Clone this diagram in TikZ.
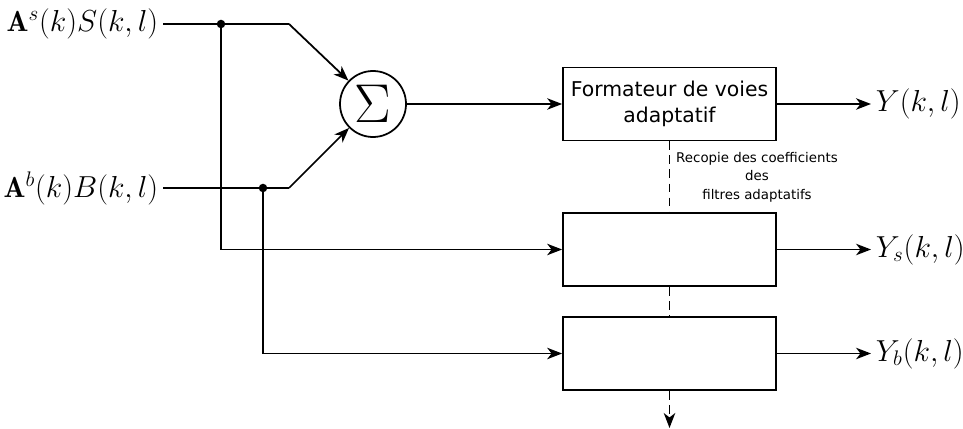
\documentclass[tikz,border=0pt]{standalone}
\usepackage{fontspec}
\newfontfamily\boxfont{DejaVu Sans}
\usetikzlibrary{arrows.meta}

\begin{document}
\begin{tikzpicture}[
  x=1cm,
  y=1cm,
  line width=1pt,
  sig/.style={font=\fontsize{16.5}{20}\selectfont, inner sep=0.08cm},
  sum/.style={draw, circle, minimum size=1.32cm, inner sep=0pt, font=\Huge},
  block/.style={draw, minimum width=4.26cm, minimum height=1.46cm, align=center, font=\boxfont\fontsize{11.6}{14.8}\selectfont},
  note/.style={align=center, font=\boxfont\fontsize{7.6}{10.5}\selectfont},
  junction/.style={circle, fill, minimum size=0.17cm, inner sep=0pt},
  link/.style={-{Stealth[length=8.5pt, width=6.5pt, inset=2.5pt]}},
  copy/.style={line width=1.1pt, dash pattern=on 5pt off 3pt}
]
  \useasboundingbox (0,0) rectangle (19.26,-8.58);

  \node[sig, anchor=east] (xs) at (3.26, -0.48) {$\mathbf{A}^s(k)S(k,l)$};
  \node[sig, anchor=east] (xb) at (3.26, -3.76) {$\mathbf{A}^b(k)B(k,l)$};

  \node[junction] (d1) at (4.42, -0.48) {};
  \node[junction] (d2) at (5.26, -3.76) {};
  \coordinate (c1) at (5.78, -0.48);
  \coordinate (c2) at (5.78, -3.76);

  \node[sum] (sum) at (7.46, -2.08) {\scalebox{1.25}{$\Sigma$}};

  \node[block] (bf) at (13.39, -2.08) {Formateur de voies\\adaptatif};
  \node[block] (bs) at (13.39, -4.99) {};
  \node[block] (bb) at (13.39, -7.07) {};

  \node[note] (cp) at (15.14, -3.54) {Recopie des coefficients\\des\\filtres adaptatifs};

  \node[sig, anchor=west] (y) at (17.42, -2.08) {$Y(k,l)$};
  \node[sig, anchor=west] (ys) at (17.42, -4.99) {$Y_s(k,l)$};
  \node[sig, anchor=west] (yb) at (17.42, -7.07) {$Y_b(k,l)$};
  \coordinate (end) at (13.39, -8.56);

  \draw (xs.east) -- (d1.center) -- (c1);
  \draw[link] (c1) -- (sum);
  \draw (xb.east) -- (d2.center) -- (c2);
  \draw[link] (c2) -- (sum);
  \draw[link] (sum) -- (bf);
  \draw[link] (d1.center) |- (bs.west);
  \draw[link] (d2.center) |- (bb.west);

  \draw[link] (bf.east) -- (y.west);
  \draw[link] (bs.east) -- (ys.west);
  \draw[link] (bb.east) -- (yb.west);

  \draw[copy] (bf.south) -- (bs.north);
  \draw[copy] (bs.south) -- (bb.north);
  \draw[copy, link] (bb.south) -- (end);
\end{tikzpicture}
\end{document}
